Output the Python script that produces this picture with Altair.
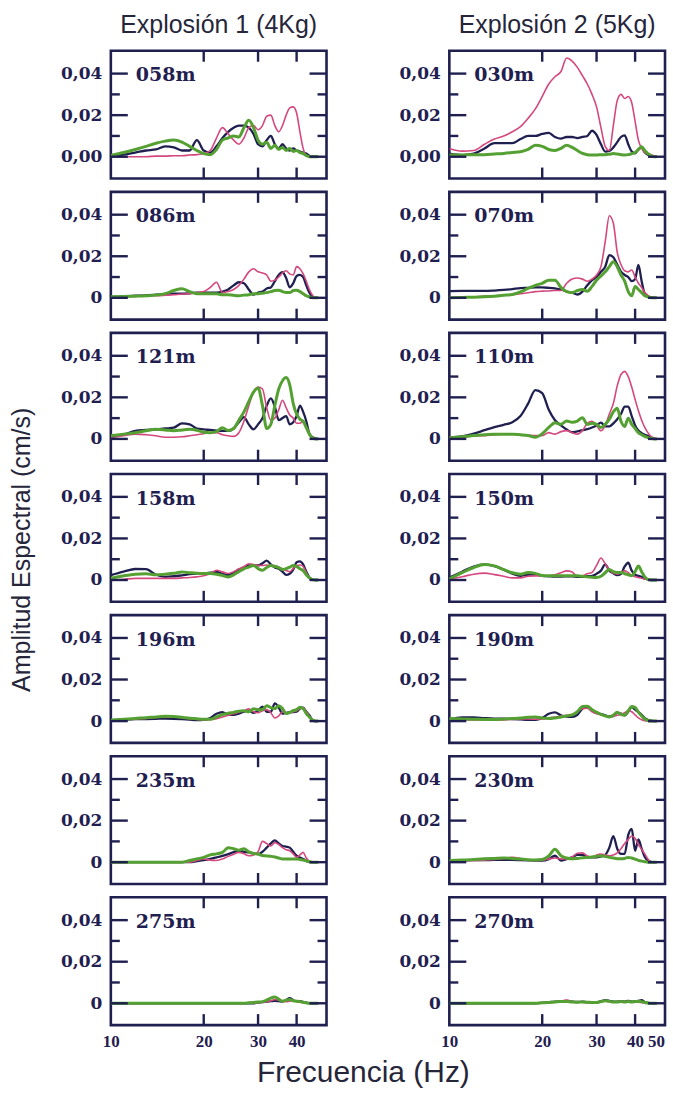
import altair as alt
import pandas as pd

# Frequency grid shared by every spectrum (Hz)
FREQ = list(range(10, 48))

# Spectral amplitudes, in units of 0.001 cm/s, one value per FREQ entry
# Explosión 1 (4 kg)
E1_058_NAVY = [0.5, 1, 2, 3, 3.5, 5, 4.5, 3, 3, 8, 3, 2, 5, 9, 12, 14, 15, 15, 14, 11, 6, 5, 8, 10, 6, 4, 6, 4, 3, 4, 3, 2.5, 2, 1.5, 0.5, 0, 0, 0]
E1_058_PINK = [0, 0, 0, 0, 0.3, 0.3, 0.5, 0.5, 0.8, 1, 1.5, 3, 9, 14, 11, 8, 6, 9, 14, 15, 13, 15, 19.5, 20, 15, 12, 15, 20, 23.5, 24, 21, 12, 4, 0.5, 0, 0, 0, 0]
E1_058_GREEN = [0.6, 2, 3.5, 5, 6.5, 7.5, 8, 7, 5, 3, 1.5, 1, 3.5, 8, 9, 10, 9.5, 14, 17.5, 14, 8, 6, 7, 4, 5.5, 3.5, 4.5, 3, 4, 2.5, 3, 2, 1.5, 0.5, 0, 0, 0, 0]

E1_086_NAVY = [0.5, 0.7, 1, 1.2, 1.5, 1.8, 2, 2, 2.2, 2.5, 2.5, 2.5, 2.5, 3, 4, 6, 7.5, 7, 4, 1.5, 2.5, 3, 4.5, 5, 8, 11, 12.4, 9.5, 5, 7, 10.5, 11, 10, 6, 2.5, 0.5, 0, 0]
E1_086_PINK = [0, 0.5, 0.8, 1, 1, 1.2, 1.5, 1.8, 2, 2.5, 3, 5, 7.5, 2.5, 3, 4, 6, 9, 12.5, 14, 12.5, 12, 11, 8, 8.5, 10, 12, 13, 11.5, 11, 15, 14, 11.5, 8, 4, 1.3, 0, 0]
E1_086_GREEN = [0.5, 0.6, 0.8, 1, 1.3, 2, 3.5, 4.4, 3, 2, 2, 2, 2, 1.5, 1.5, 1.2, 1, 1.3, 1.5, 2, 2, 2.2, 2.5, 3, 3.5, 3.7, 3, 2.5, 2.5, 3.5, 3.7, 3, 2, 1, 0.5, 0, 0, 0]

E1_121_NAVY = [0.8, 2, 3.9, 4.3, 4.6, 5, 5.4, 7.5, 7, 5, 4.6, 4.3, 4, 3.9, 3.9, 5, 8, 10.5, 7, 4.6, 7, 10, 16, 19.5, 15.5, 9, 10, 11, 7, 8, 11, 16, 13, 8.5, 2.5, 0.8, 0.3, 0]
E1_121_PINK = [0.8, 1.5, 2.3, 2, 1.5, 0.8, 0.8, 1, 1.5, 2, 2.5, 3, 3, 2, 1.5, 1.2, 3, 8.5, 16, 22.5, 25, 24, 15, 9, 10, 14, 18.6, 15, 11.5, 10, 7.5, 7.5, 8.5, 5, 2, 0.5, 0, 0]
E1_121_GREEN = [1.5, 2.3, 3, 3.9, 4.6, 4.3, 3.9, 4.3, 4.6, 4.2, 3.2, 3, 3.5, 5.4, 4, 5, 9, 13, 18, 22.5, 24.5, 16, 5, 7, 16, 24, 28, 29.5, 26, 17, 12, 9.5, 8.5, 5.5, 2.3, 0.5, 0, 0]

E1_158_NAVY = [2.3, 4, 5.3, 5.2, 2.5, 1.5, 1.8, 2.2, 2.8, 3.1, 3.2, 3.5, 3.9, 3, 2.3, 3.5, 5, 6, 7, 7, 7, 8, 9.3, 7.5, 6, 5.4, 4, 2.5, 3, 5, 8.5, 9, 7.5, 4, 1.2, 0.3, 0, 0]
E1_158_PINK = [0, 0.3, 0.8, 0.8, 0.8, 0.8, 0.8, 1, 1.2, 1.5, 2, 3, 4.7, 3.9, 3.1, 4, 5.4, 6.5, 7.8, 7.5, 7, 7, 7.2, 7, 7, 6.2, 5.4, 4.5, 4, 5.5, 7, 7.2, 6.5, 3.5, 1.2, 0.3, 0, 0]
E1_158_GREEN = [0.8, 2, 2.8, 3, 2.5, 2.8, 3.2, 3.9, 3.5, 3.2, 3.1, 3.1, 2.8, 2.2, 1.5, 2.5, 4, 5.4, 6.2, 7, 5.5, 4.7, 6, 7, 6.5, 6, 5, 5.5, 6.2, 7, 6.5, 5.4, 4.5, 2.5, 1, 0.2, 0, 0]

E1_196_NAVY = [0.5, 0.7, 0.9, 1, 1.1, 1.2, 1.1, 0.9, 0.7, 0.5, 0.6, 1.5, 3.5, 4.3, 3, 3, 3.6, 4.5, 5, 4, 5, 7, 4.5, 4.5, 8.5, 6.5, 3.6, 4, 4.3, 4.3, 4.5, 6, 6.5, 4.5, 2.8, 0.5, 0, 0]
E1_196_PINK = [0.5, 0.8, 1, 1.3, 1.7, 2, 2, 1.6, 1.2, 0.8, 0.6, 0.8, 1.2, 2, 2.8, 3.5, 4.3, 5, 5.9, 4.5, 4, 5, 5.5, 4, 1.5, 2.5, 4.5, 4, 4, 4.5, 5, 6, 6.5, 4.5, 2.5, 0.5, 0, 0]
E1_196_GREEN = [0.5, 0.9, 1.3, 1.6, 2, 2.3, 2.2, 1.8, 1.4, 1.1, 0.9, 0.9, 2, 3.1, 3.8, 4.2, 4.8, 5, 4.5, 5.9, 5.5, 5.5, 7.4, 6.5, 6, 7.4, 6, 3.6, 4.2, 5, 5.5, 6.7, 6, 3.6, 2, 0.5, 0, 0]

E1_235_NAVY = [0, 0, 0, 0, 0, 0, 0, 0, 0, 0.5, 1, 1.6, 2.3, 3, 3.9, 4.8, 5.5, 5, 4.7, 4.2, 3.9, 5, 7, 9, 10.5, 9, 7.8, 7.5, 7, 5, 3.1, 2.2, 1.5, 0.7, 0, 0, 0, 0]
E1_235_PINK = [0, 0, 0, 0, 0, 0, 0, 0, 0, 0.8, 1.5, 1, 0.8, 1.5, 2.8, 3.8, 4.7, 4, 3.1, 3.5, 5, 10, 9, 7.8, 9.4, 8.5, 7, 6, 5.5, 4, 2.3, 3.5, 4.7, 2, 0.5, 0, 0, 0]
E1_235_GREEN = [0, 0, 0, 0, 0, 0, 0, 0, 0.8, 1.6, 2.3, 3.5, 4, 4.7, 7, 6.5, 5.8, 6.5, 5, 4.2, 3.9, 3.2, 3, 2.8, 2.5, 2, 1.5, 1.5, 1.5, 1.5, 1.5, 1.3, 1, 0.6, 0.2, 0, 0, 0]

E1_275_NAVY = [0, 0, 0, 0, 0, 0, 0, 0, 0, 0, 0, 0, 0, 0, 0, 0, 0, 0, 0, 0, 0.3, 0.5, 0.8, 1, 1.2, 1, 0.8, 1.5, 2.5, 1.5, 1, 1, 0.6, 0.3, 0, 0, 0, 0]
E1_275_PINK = [0, 0, 0, 0, 0, 0, 0, 0, 0, 0, 0, 0, 0, 0, 0, 0, 0, 0, 0, 0, 0.3, 0.5, 0.8, 1.2, 1.8, 1.5, 1, 0.8, 1, 1.2, 0.8, 0.5, 0.3, 0, 0, 0, 0, 0]
E1_275_GREEN = [0, 0, 0, 0, 0, 0, 0, 0, 0, 0, 0, 0, 0, 0, 0, 0, 0, 0, 0.2, 0.4, 0.6, 0.8, 1.5, 2.5, 3, 2, 1, 1.5, 1.8, 1.2, 1, 0.8, 0.5, 0.2, 0, 0, 0, 0]

# Explosión 2 (5 kg)
E2_030_NAVY = [1.5, 0.8, 1.5, 4, 6.5, 6.5, 6.5, 8.5, 10, 10, 11, 11.5, 9.5, 8.7, 9.5, 9.5, 9, 9.5, 10, 12.5, 10.5, 6, 2.5, 2.8, 4.5, 7, 9.5, 10.3, 6, 2.5, 1.6, 3.5, 4.5, 2, 1, 0.5, 0, 0]
E2_030_PINK = [4, 2.7, 3, 6, 8.5, 10, 12, 14.5, 18.5, 23, 29, 35, 38.5, 41, 47.5, 46, 43, 39, 35, 30, 24, 14, 5, 3, 15, 27, 30, 28, 29, 26, 17, 8, 4, 2, 1.5, 1, 0.5, 0]
E2_030_GREEN = [0.8, 0.8, 1, 1, 1.3, 1.6, 2, 2.4, 3.5, 5.5, 5, 3.5, 3, 4, 5.5, 4.5, 3, 1.6, 1, 0.8, 0.8, 1, 1, 1.2, 1.5, 1.3, 1, 0.8, 1, 1.5, 2, 3.5, 4.8, 3, 1.5, 0.5, 0, 0]

E2_070_NAVY = [3.2, 3.3, 3.3, 3.3, 3.5, 3.8, 4.2, 4.7, 4.8, 5, 5, 4.8, 4.5, 4, 3, 2.5, 1.6, 3, 6, 8.5, 10, 12.5, 15, 20.5, 19.5, 16, 12.6, 11, 10, 8, 9, 15.8, 8, 2, 0.8, 0.3, 0, 0]
E2_070_PINK = [0, 0.3, 0.5, 0.8, 1, 1.3, 1.6, 2, 2.4, 3, 3.2, 3.3, 3.5, 3.5, 7, 9, 9.5, 9, 8, 9, 11, 15, 27, 39.5, 36, 22, 16, 13, 12.5, 13.4, 10, 7, 5, 2.5, 1.2, 0.3, 0, 0]
E2_070_GREEN = [0, 0.2, 0.3, 0.5, 0.8, 1.2, 1.6, 2.8, 4.5, 6, 7, 8.5, 8.5, 5, 3, 2.5, 3.5, 4, 3.2, 5.5, 8.5, 10.5, 12.5, 15, 17.4, 15, 11, 8, 3, 1, 5.5, 4, 2.5, 1, 0.5, 0, 0, 0]

E2_110_NAVY = [0.8, 1.2, 2.5, 4.2, 5.7, 6.8, 8, 11, 17, 23.5, 22, 14, 9, 6.5, 4.5, 3.2, 3.6, 4.2, 4.7, 5.5, 6.5, 7.8, 6, 6, 7.5, 9.5, 12, 15.5, 15.5, 11, 6.5, 4, 2.8, 2, 1.5, 0.8, 0, 0]
E2_110_PINK = [0.8, 1, 1.4, 1.6, 2, 2.3, 2.3, 2, 1.8, 1.6, 1.6, 3, 2.3, 3.5, 4, 3, 2.3, 4, 7.5, 8.5, 6.5, 3.9, 6.5, 12, 17, 25.5, 31, 32.5, 30, 25, 19, 13.5, 9, 5.5, 3, 1.2, 0.5, 0]
E2_110_GREEN = [0.5, 1, 1.6, 2, 2.3, 2.3, 2.3, 2, 1.6, 0.8, 2.5, 5.5, 7.8, 7, 8.6, 8, 8.6, 10.2, 7, 7.5, 7, 5.5, 7, 9.5, 13, 14.8, 8.5, 6, 10, 7, 5, 3, 2, 1.2, 0.6, 0.3, 0, 0]

E2_150_NAVY = [1.2, 4, 6.5, 7.5, 6.7, 5, 3, 2, 2.6, 2.6, 2, 1.8, 1.6, 1.6, 1.8, 1.8, 1.5, 1.5, 1.8, 2, 3, 4.5, 7.5, 4.5, 3.2, 2.3, 3, 6.5, 8.3, 4.5, 2.5, 2, 1.5, 0.6, 0.3, 0, 0, 0]
E2_150_PINK = [0.5, 1.6, 2.8, 3.3, 2.6, 1.8, 1, 1, 1.8, 2, 2, 2, 2.5, 3.5, 4.4, 3.8, 1.8, 2, 3, 3.6, 7, 10.6, 7.8, 5, 3.3, 2.8, 3.5, 4.4, 3.5, 2.2, 1.6, 1.2, 0.8, 0.5, 0.2, 0, 0, 0]
E2_150_GREEN = [0.5, 3.5, 6, 7.5, 6.8, 5, 3.5, 2.8, 3.6, 3.2, 2.2, 2, 2, 2, 2, 2, 2, 1.8, 1.5, 1.3, 1.2, 1.8, 3.5, 5.1, 4, 3.6, 3.6, 3, 2.5, 2, 4, 6.7, 4, 1.5, 0.3, 0, 0, 0]

E2_190_NAVY = [0.8, 1.8, 1.8, 1.4, 1.2, 1.2, 1, 0.8, 0.6, 0.6, 1.5, 3.5, 4.2, 2.8, 2.2, 2, 3, 6, 7, 5, 3.8, 3.4, 2.8, 2.2, 2.5, 4, 3.6, 2.8, 4.5, 6.7, 5.5, 4.3, 3, 1.4, 0.6, 0.2, 0, 0]
E2_190_PINK = [0.8, 0.6, 0.5, 0.5, 0.5, 0.6, 0.8, 1, 1, 0.9, 1, 1.5, 2, 2.4, 2.8, 3.1, 4.5, 6, 6.2, 4.5, 3.6, 3, 2.5, 2, 2.2, 2.8, 3.2, 4, 5, 4.5, 3, 1.5, 0.6, 0.2, 0, 0, 0, 0]
E2_190_GREEN = [1.2, 1, 0.9, 0.8, 0.8, 1, 1.2, 1.5, 1.8, 2, 1.5, 1.2, 1.5, 2, 2.5, 3, 4.5, 7, 7.2, 5.5, 4.3, 3.2, 2.5, 2, 2.8, 4.3, 3.2, 2.8, 5, 7, 6.5, 4.3, 2.5, 1, 0.3, 0, 0, 0]

E2_230_NAVY = [0.8, 0.9, 1, 1, 1.1, 1.1, 1.1, 1, 0.9, 0.8, 0.8, 1.5, 3.1, 0.8, 1.5, 2.3, 3.5, 3.5, 2.3, 2.3, 2.3, 2.8, 3.5, 7, 12.5, 6.5, 4, 4, 13, 16, 5.5, 11, 6.5, 2.5, 0.8, 0.2, 0, 0]
E2_230_PINK = [0.3, 0.5, 0.8, 1, 1.3, 1.8, 2.3, 1.8, 1, 0.8, 1, 1.5, 2, 1.6, 1.5, 2.5, 4.3, 4.5, 3, 2.5, 3.5, 3.9, 3.5, 3.1, 3.5, 4.5, 6.5, 9, 11, 12.5, 11.5, 8.5, 6.2, 4, 1.5, 0, 0, 0]
E2_230_GREEN = [0.8, 1, 1.3, 1.6, 1.8, 2, 1.8, 1.5, 1.2, 1.1, 1.3, 3, 6.2, 3.1, 2, 1.6, 1.8, 2.1, 2.3, 2.5, 2.8, 3.1, 2.8, 2.3, 2, 1.7, 1.6, 1.8, 2.3, 2, 1.5, 0.9, 0.5, 0.2, 0, 0, 0, 0]

E2_270_NAVY = [0, 0, 0, 0, 0, 0, 0, 0, 0, 0, 0.2, 0.5, 0.8, 1, 1.2, 0.8, 0.6, 0.8, 0.5, 0.4, 0.5, 1, 1.5, 1.2, 0.8, 0.8, 1, 0.8, 1.2, 0.8, 1, 1.2, 1.5, 0.6, 0.2, 0, 0, 0]
E2_270_PINK = [0, 0, 0, 0, 0, 0, 0, 0, 0, 0, 0.2, 0.4, 0.5, 1, 1.5, 0.8, 0.5, 0.5, 0.4, 0.3, 0.5, 0.8, 1, 0.8, 0.6, 0.5, 0.6, 0.8, 1, 0.6, 0.5, 0.5, 0.3, 0.2, 0, 0, 0, 0]
E2_270_GREEN = [0, 0, 0, 0, 0, 0, 0, 0, 0, 0, 0.2, 0.4, 0.6, 0.8, 0.8, 0.6, 0.5, 0.6, 0.5, 0.4, 0.4, 0.8, 1.2, 1, 0.6, 0.6, 0.8, 0.6, 0.8, 0.6, 0.8, 1, 0.8, 0.4, 0.1, 0, 0, 0]

E1_LABELS = ["058m", "086m", "121m", "158m", "196m", "235m", "275m"]
E2_LABELS = ["030m", "070m", "110m", "150m", "190m", "230m", "270m"]
E1_SERIES = [
    (E1_058_NAVY, E1_058_PINK, E1_058_GREEN),
    (E1_086_NAVY, E1_086_PINK, E1_086_GREEN),
    (E1_121_NAVY, E1_121_PINK, E1_121_GREEN),
    (E1_158_NAVY, E1_158_PINK, E1_158_GREEN),
    (E1_196_NAVY, E1_196_PINK, E1_196_GREEN),
    (E1_235_NAVY, E1_235_PINK, E1_235_GREEN),
    (E1_275_NAVY, E1_275_PINK, E1_275_GREEN),
]
E2_SERIES = [
    (E2_030_NAVY, E2_030_PINK, E2_030_GREEN),
    (E2_070_NAVY, E2_070_PINK, E2_070_GREEN),
    (E2_110_NAVY, E2_110_PINK, E2_110_GREEN),
    (E2_150_NAVY, E2_150_PINK, E2_150_GREEN),
    (E2_190_NAVY, E2_190_PINK, E2_190_GREEN),
    (E2_230_NAVY, E2_230_PINK, E2_230_GREEN),
    (E2_270_NAVY, E2_270_PINK, E2_270_GREEN),
]
COLUMN_TITLES = ["Explosión 1 (4Kg)", "Explosión 2 (5Kg)"]
X_LABELS = [[10, 20, 30, 40], [10, 20, 30, 40, 50]]
Y_MAJOR = [0, 0.02, 0.04]
Y_MINOR = [0.01, 0.03]
X_MAJOR = [20, 30, 40]

NAVY = "#1f2050"
PINK = "#d4487e"
GREEN = "#55a032"
INK = "#1f2050"

W, H = 216, 128
MAJOR_LEN, MINOR_LEN, XTICK_LEN = 17, 9, 11


def panel(label, navy, pink, green, first_row, last_row, col):
    zero_text = "'0,00'" if first_row else "'0'"
    y_axis = alt.Axis(
        values=Y_MAJOR,
        labelExpr=f"datum.value == 0 ? {zero_text} : replace(format(datum.value, '.2f'), '.', ',')",
        ticks=False, tickSize=0, domain=False, grid=False, title=None,
        labelFont="DejaVu Serif", labelFontWeight="bold", labelFontSize=17,
        labelColor=INK, labelPadding=9,
    )
    if last_row:
        x_axis = alt.Axis(
            values=X_LABELS[col], labelExpr="format(datum.value, 'd')",
            ticks=False, tickSize=0, domain=False, grid=False, title=None,
            labelFont="Liberation Serif", labelFontWeight="bold", labelFontSize=17,
            labelColor=INK, labelPadding=8, labelFlush=False, labelOverlap=False,
            labelOffset={"condition": {"test": "datum.value == 50", "value": -9}, "value": 0},
        )
    else:
        x_axis = None

    X = alt.X("freq:Q", scale=alt.Scale(type="log", domain=[10, 50]), axis=x_axis)
    Y = alt.Y("amp:Q", scale=alt.Scale(domain=[-0.0105, 0.051]), axis=y_axis)

    layers = []
    for vals, color, width in ((navy, NAVY, 2.3), (pink, PINK, 1.6), (green, GREEN, 3.0)):
        df = pd.DataFrame({"freq": FREQ, "amp": [v / 1000 for v in vals]})
        layers.append(
            alt.Chart(df).mark_line(interpolate="monotone", color=color, strokeWidth=width,
                                    clip=True, strokeJoin="round").encode(x=X, y=Y)
        )

    ymaj = pd.DataFrame({"amp": Y_MAJOR})
    ymin = pd.DataFrame({"amp": Y_MINOR})
    xmaj = pd.DataFrame({"freq": X_MAJOR})
    rule = dict(color=INK, strokeWidth=2.4)
    layers += [
        alt.Chart(ymaj).mark_rule(**rule).encode(y=Y, x=alt.value(0), x2=alt.value(MAJOR_LEN)),
        alt.Chart(ymin).mark_rule(**rule).encode(y=Y, x=alt.value(0), x2=alt.value(MINOR_LEN)),
        alt.Chart(ymaj).mark_rule(**rule).encode(y=Y, x=alt.value(W), x2=alt.value(W - MAJOR_LEN)),
        alt.Chart(ymin).mark_rule(**rule).encode(y=Y, x=alt.value(W), x2=alt.value(W - MINOR_LEN)),
        alt.Chart(xmaj).mark_rule(**rule).encode(x=X, y=alt.value(0), y2=alt.value(XTICK_LEN)),
        alt.Chart(xmaj).mark_rule(**rule).encode(x=X, y=alt.value(H), y2=alt.value(H - XTICK_LEN)),
    ]

    lab = pd.DataFrame({"amp": [0.0392], "lab": [label]})
    layers.append(
        alt.Chart(lab).mark_text(align="left", baseline="middle", font="DejaVu Serif",
                                 fontWeight="bold", fontSize=19, color=INK)
        .encode(x=alt.value(25), y=Y, text="lab:N")
    )

    props = dict(width=W, height=H)
    if first_row:
        props["title"] = alt.Title(COLUMN_TITLES[col], font="Liberation Sans", fontSize=25,
                                   fontWeight="normal", color="#26263a", anchor="middle",
                                   frame="group", offset=12)
    return alt.layer(*layers).properties(**props)


def column(labels, series, col):
    n = len(labels)
    return alt.vconcat(
        *[panel(labels[i], *series[i], i == 0, i == n - 1, col) for i in range(n)],
        spacing=7.3,
    )


grid = alt.hconcat(
    column(E1_LABELS, E1_SERIES, 0),
    column(E2_LABELS, E2_SERIES, 1),
    spacing=68,
    title=alt.Title("Frecuencia (Hz)", orient="bottom", font="Liberation Sans", fontSize=30,
                    fontWeight="normal", color="#26263a", anchor="middle", offset=8),
)

chart = alt.vconcat(
    grid,
    title=alt.Title("Amplitud Espectral  (cm/s)", orient="left", font="Liberation Sans",
                    fontSize=25, fontWeight="normal", color="#26263a", anchor="middle", offset=24),
).properties(
    padding={"left": 10, "top": 10, "right": 5, "bottom": 5},
    background="white",
).configure_view(
    stroke=INK, strokeWidth=2.6
)

chart.save("out.html", embed_options={"renderer": "svg", "actions": False})
